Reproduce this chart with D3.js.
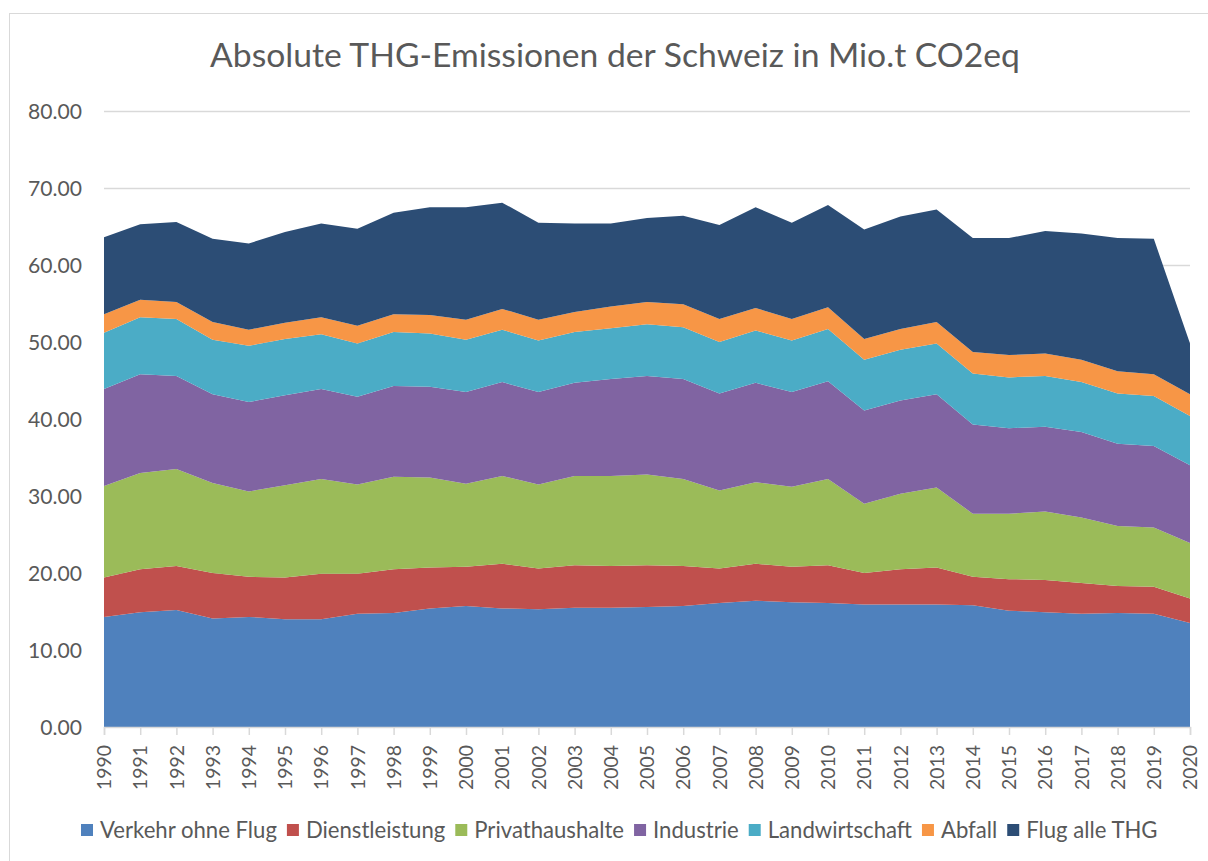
<!DOCTYPE html>
<html>
<head>
<meta charset="utf-8">
<script src="https://cdn.jsdelivr.net/npm/d3@7"></script>
<style>
  body { margin: 0; background: #fff; }
  svg { font-family: Lato, "Open Sans", sans-serif; }
</style>
</head>
<body>
<svg id="chart" width="1208" height="861"></svg>
<script>
// years and series (Mio. t CO2eq)
var years = d3.range(1990, 2021);
var seriesNames = ["Verkehr ohne Flug", "Dienstleistung", "Privathaushalte", "Industrie", "Landwirtschaft", "Abfall", "Flug alle THG"];
var colors = ["#4f81bd", "#c0504d", "#9bbb59", "#8064a2", "#4bacc6", "#f79646", "#2c4d75"];

var verkehr = [14.3, 14.9, 15.2, 14.1, 14.3, 14.0, 14.0, 14.7, 14.8, 15.4, 15.7, 15.4, 15.3, 15.5, 15.5, 15.6,
               15.7, 16.1, 16.4, 16.2, 16.1, 15.9, 15.9, 15.9, 15.8, 15.1, 14.9, 14.7, 14.8, 14.7, 13.5];
var dienst = [5.1, 5.6, 5.7, 5.9, 5.2, 5.4, 5.9, 5.2, 5.7, 5.3, 5.1, 5.8, 5.3, 5.5, 5.4, 5.4,
              5.2, 4.5, 4.8, 4.6, 4.9, 4.1, 4.6, 4.8, 3.7, 4.1, 4.2, 4.0, 3.5, 3.5, 3.2];
var privat = [11.9, 12.5, 12.6, 11.7, 11.1, 12.0, 12.3, 11.6, 12.0, 11.7, 10.8, 11.4, 10.9, 11.6, 11.7, 11.8,
              11.3, 10.1, 10.6, 10.4, 11.2, 9.0, 9.8, 10.4, 8.2, 8.5, 8.9, 8.5, 7.8, 7.7, 7.2];
var industrie = [12.6, 12.8, 12.1, 11.5, 11.6, 11.7, 11.7, 11.4, 11.8, 11.8, 11.9, 12.2, 12.0, 12.1, 12.6, 12.8,
                 13.0, 12.6, 12.9, 12.3, 12.7, 12.1, 12.1, 12.1, 11.6, 11.1, 11.0, 11.1, 10.7, 10.6, 10.1];
var landw = [7.3, 7.4, 7.4, 7.1, 7.3, 7.3, 7.1, 6.9, 7.0, 6.9, 6.8, 6.8, 6.7, 6.6, 6.6, 6.7,
             6.7, 6.7, 6.8, 6.7, 6.8, 6.6, 6.6, 6.6, 6.6, 6.6, 6.6, 6.5, 6.5, 6.5, 6.4];
var abfall = [2.4, 2.3, 2.2, 2.3, 2.1, 2.1, 2.2, 2.3, 2.3, 2.4, 2.6, 2.7, 2.7, 2.6, 2.8, 2.9,
              3.0, 3.0, 2.9, 2.8, 2.8, 2.7, 2.7, 2.8, 2.8, 2.9, 2.9, 2.9, 2.9, 2.8, 2.8];
var flug = [10.0, 9.8, 10.4, 10.8, 11.2, 11.8, 12.2, 12.6, 13.2, 14.0, 14.6, 13.8, 12.6, 11.5, 10.8, 10.9,
            11.5, 12.2, 13.1, 12.5, 13.3, 14.2, 14.6, 14.6, 14.8, 15.2, 15.9, 16.4, 17.3, 17.6, 6.6];
var yTicks = [0, 10, 20, 30, 40, 50, 60, 70, 80];

var seriesValues = [verkehr, dienst, privat, industrie, landw, abfall, flug];
var rows = years.map(function(yr, i){
    var r = { year: yr };
    seriesNames.forEach(function(n, k){ r[n] = seriesValues[k][i]; });
    return r;
});

var svg = d3.select("#chart");
var textColor = "#595959";
var gridColor = "#d9d9d9";

// fit a text element to a given width by adjusting its font size
function fitWidth(sel, target){
    var fs = parseFloat(sel.attr("font-size"));
    var w = sel.node().getComputedTextLength();
    sel.attr("font-size", fs * target / w);
}

// chart border
svg.append("rect").attr("x", 9.5).attr("y", 13.5).attr("width", 1260).attr("height", 900)
    .attr("fill", "none").attr("stroke", gridColor).attr("stroke-width", 1);

var plotL = 104, plotR = 1190, plotT = 111, plotB = 727;

var x = d3.scaleLinear().domain([1990, 2020]).range([plotL, plotR]);
var y = d3.scaleLinear().domain([0, 80]).range([plotB, plotT]);

// title
var title = svg.append("text").attr("x", (210 + 1020) / 2).attr("y", 67)
    .attr("text-anchor", "middle").attr("fill", textColor).attr("font-size", 30)
    .text("Absolute THG-Emissionen der Schweiz in Mio.t CO2eq");
fitWidth(title, 810);

// grid lines
svg.append("g").selectAll("line").data(yTicks.slice(1)).enter().append("line")
    .attr("x1", plotL).attr("x2", plotR)
    .attr("y1", function(d){ return Math.round(y(d)) + 0.5; })
    .attr("y2", function(d){ return Math.round(y(d)) + 0.5; })
    .attr("stroke", gridColor).attr("stroke-width", 1.5);

// stacked areas
var layers = d3.stack().keys(seriesNames)(rows);
var area = d3.area()
    .x(function(d){ return x(d.data.year); })
    .y0(function(d){ return y(d[0]); })
    .y1(function(d){ return y(d[1]); });

svg.append("g").selectAll("path").data(layers).enter().append("path")
    .attr("d", area)
    .attr("fill", function(d, i){ return colors[i]; });

// y axis labels
var yAxis = svg.append("g").attr("transform", "translate(" + (plotL - 22) + ",0)")
    .call(d3.axisLeft(y).tickValues(yTicks).tickSize(0).tickFormat(d3.format(".2f")));
yAxis.select(".domain").remove();
yAxis.selectAll("text").attr("fill", textColor).attr("font-size", 19)
    .attr("font-family", "Lato, 'Open Sans', sans-serif").attr("dy", "0.35em").attr("x", 0);
var probeY = yAxis.selectAll("text").filter(function(d){ return d === 80; });
var fsY = 19 * 54 / probeY.node().getComputedTextLength();
yAxis.selectAll("text").attr("font-size", fsY);

// x axis
var xAxis = svg.append("g").attr("transform", "translate(0," + plotB + ")")
    .call(d3.axisBottom(x).tickValues(years).tickSize(8).tickFormat(d3.format("d")));
xAxis.select(".domain").attr("stroke", gridColor).attr("stroke-width", 1.5);
xAxis.selectAll(".tick line").attr("stroke", gridColor).attr("stroke-width", 1.5);
xAxis.selectAll("text")
    .attr("fill", textColor).attr("font-size", 18)
    .attr("font-family", "Lato, 'Open Sans', sans-serif")
    .attr("transform", "rotate(-90)")
    .attr("text-anchor", "end")
    .attr("x", -18).attr("y", 0).attr("dy", "0.35em");
var probeX = xAxis.select("text");
var fsX = 18 * 45 / probeX.node().getComputedTextLength();
xAxis.selectAll("text").attr("font-size", fsX);

// legend
var items = svg.append("g").selectAll("g").data(seriesNames).enter().append("g");
items.append("rect").attr("y", -6).attr("width", 12).attr("height", 12)
    .attr("fill", function(d, i){ return colors[i]; });
items.append("text").attr("x", 19).attr("y", 0).attr("dy", "0.35em")
    .attr("fill", textColor).attr("font-size", 20).text(function(d){ return d; });
var fsL = 20 * 177 / items.select("text").node().getComputedTextLength();
items.selectAll("text").attr("font-size", fsL);
var pos = 81;
items.each(function(){
    var w = d3.select(this).select("text").node().getComputedTextLength();
    d3.select(this).attr("transform", "translate(" + pos + ",830)");
    pos += 19 + w + 10;
});
</script>
</body>
</html>
